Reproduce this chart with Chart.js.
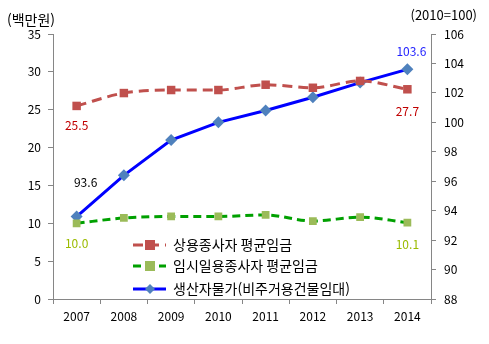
<!DOCTYPE html>
<html lang="ko">
<head>
<meta charset="UTF-8">
<title>chart</title>
<script src="https://cdn.jsdelivr.net/npm/chart.js"></script>
<style>
  html, body { margin: 0; padding: 0; background: #fff; }
  #wrap { width: 489px; height: 344px; position: relative; }
</style>
</head>
<body>
<div id="wrap"><canvas id="chart" width="489" height="344"></canvas></div>
<script>
  const years = ['2007', '2008', '2009', '2010', '2011', '2012', '2013', '2014'];
  const regularWage = [25.5, 27.2, 27.6, 27.6, 28.3, 27.9, 28.8, 27.7];
  const dailyWage = [10.0, 10.7, 10.9, 10.9, 11.1, 10.3, 10.8, 10.1];
  const ppi = [93.6, 96.4, 98.8, 100.0, 100.8, 101.7, 102.7, 103.6];
  const seriesNames = ['상용종사자 평균임금', '임시일용종사자 평균임금', '생산자물가(비주거용건물임대)'];
  const leftTitle = '(백만원)';
  const rightTitle = '(2010=100)';

  const font = "'Noto Sans CJK KR', 'Noto Sans', sans-serif";
  const axisGray = '#868686';

  // value labels: dataset index, point index, colour, dx, dy
  const valueLabels = [
    [0, 0, '#c00000', 0, 20],
    [0, 7, '#c00000', 0, 22],
    [1, 0, '#9bbb00', 0, 20],
    [1, 7, '#9bbb00', 0, 22],
    [2, 0, '#000000', 9, -34],
    [2, 7, '#1f1fff', 4, -18]
  ];

  const labelPlugin = {
    id: 'labels',
    afterDatasetsDraw(chart) {
      const ctx = chart.ctx;
      ctx.save();
      ctx.font = '12px ' + font;
      ctx.textAlign = 'center';
      ctx.textBaseline = 'middle';
      valueLabels.forEach(([d, i, color, dx, dy]) => {
        const pt = chart.getDatasetMeta(d).data[i];
        const v = chart.data.datasets[d].data[i];
        ctx.fillStyle = color;
        ctx.fillText(v.toFixed(1), pt.x + dx, pt.y + dy);
      });

      // axis titles
      ctx.fillStyle = '#000';
      ctx.font = '14px ' + font;
      ctx.textAlign = 'left';
      ctx.fillText(leftTitle, 7, 20);
      ctx.font = '13px ' + font;
      ctx.textAlign = 'right';
      ctx.fillText(rightTitle, 477, 15);

      // legend inside plot
      const lx = 133, ys = [245, 266, 289];
      chart.data.datasets.forEach((ds, k) => {
        const y = ys[k];
        ctx.strokeStyle = ds.borderColor;
        ctx.lineWidth = ds.borderWidth;
        ctx.setLineDash(ds.borderDash || []);
        ctx.beginPath();
        ctx.moveTo(lx, y);
        ctx.lineTo(lx + 33, y);
        ctx.stroke();
        ctx.setLineDash([]);
        ctx.fillStyle = ds.pointBackgroundColor;
        const cx = lx + 17;
        if (ds.pointStyle === 'rectRot') {
          ctx.beginPath();
          ctx.moveTo(cx, y - 5); ctx.lineTo(cx + 5, y); ctx.lineTo(cx, y + 5); ctx.lineTo(cx - 5, y);
          ctx.closePath(); ctx.fill();
        } else {
          ctx.fillRect(cx - 5, y - 5, 10, 10);
        }
        ctx.fillStyle = '#000';
        ctx.textAlign = 'left';
        ctx.font = '14px ' + font;
        ctx.fillText(seriesNames[k], lx + 40, y);
      });
      ctx.restore();
    }
  };

  new Chart(document.getElementById('chart'), {
    type: 'line',
    data: {
      labels: years,
      datasets: [
        {
          label: seriesNames[0], data: regularWage, yAxisID: 'y',
          borderColor: '#c0504d', borderWidth: 3, borderDash: [10, 6],
          tension: 0.4, cubicInterpolationMode: 'monotone',
          pointStyle: 'rect', pointRadius: 6, pointBackgroundColor: '#c0504d', pointBorderWidth: 0
        },
        {
          label: seriesNames[1], data: dailyWage, yAxisID: 'y',
          borderColor: '#00a000', borderWidth: 3, borderDash: [8, 5],
          tension: 0.4, cubicInterpolationMode: 'monotone',
          pointStyle: 'rect', pointRadius: 5.5, pointBackgroundColor: '#9bbb59', pointBorderWidth: 0
        },
        {
          label: seriesNames[2], data: ppi, yAxisID: 'y1',
          borderColor: '#0000ff', borderWidth: 3, tension: 0,
          pointStyle: 'rectRot', pointRadius: 6, pointBackgroundColor: '#4f81bd', pointBorderWidth: 0
        }
      ]
    },
    options: {
      responsive: false,
      animation: false,
      layout: { padding: { top: 34, left: 0, right: 0, bottom: 0 } },
      plugins: { legend: { display: false }, tooltip: { enabled: false } },
      scales: {
        x: {
          offset: true,
          grid: { offset: true, drawOnChartArea: false, tickLength: 5, color: axisGray },
          border: { color: axisGray },
          ticks: { color: '#000', font: { family: font, size: 12 }, padding: 5, maxRotation: 0 },
          afterFit(s) { s.height = 45; }
        },
        y: {
          position: 'left', min: 0, max: 35,
          grid: { drawOnChartArea: false, tickLength: 5, color: axisGray },
          border: { color: axisGray },
          ticks: { stepSize: 5, color: '#000', font: { family: font, size: 12 }, padding: 7 },
          afterFit(s) { s.width = 53; }
        },
        y1: {
          position: 'right', min: 88, max: 106,
          grid: { drawOnChartArea: false, tickLength: 5, color: axisGray },
          border: { color: axisGray },
          ticks: { stepSize: 2, color: '#000', font: { family: font, size: 12 }, padding: 8 },
          afterFit(s) { s.width = 58; }
        }
      }
    },
    plugins: [labelPlugin]
  });
</script>
</body>
</html>
